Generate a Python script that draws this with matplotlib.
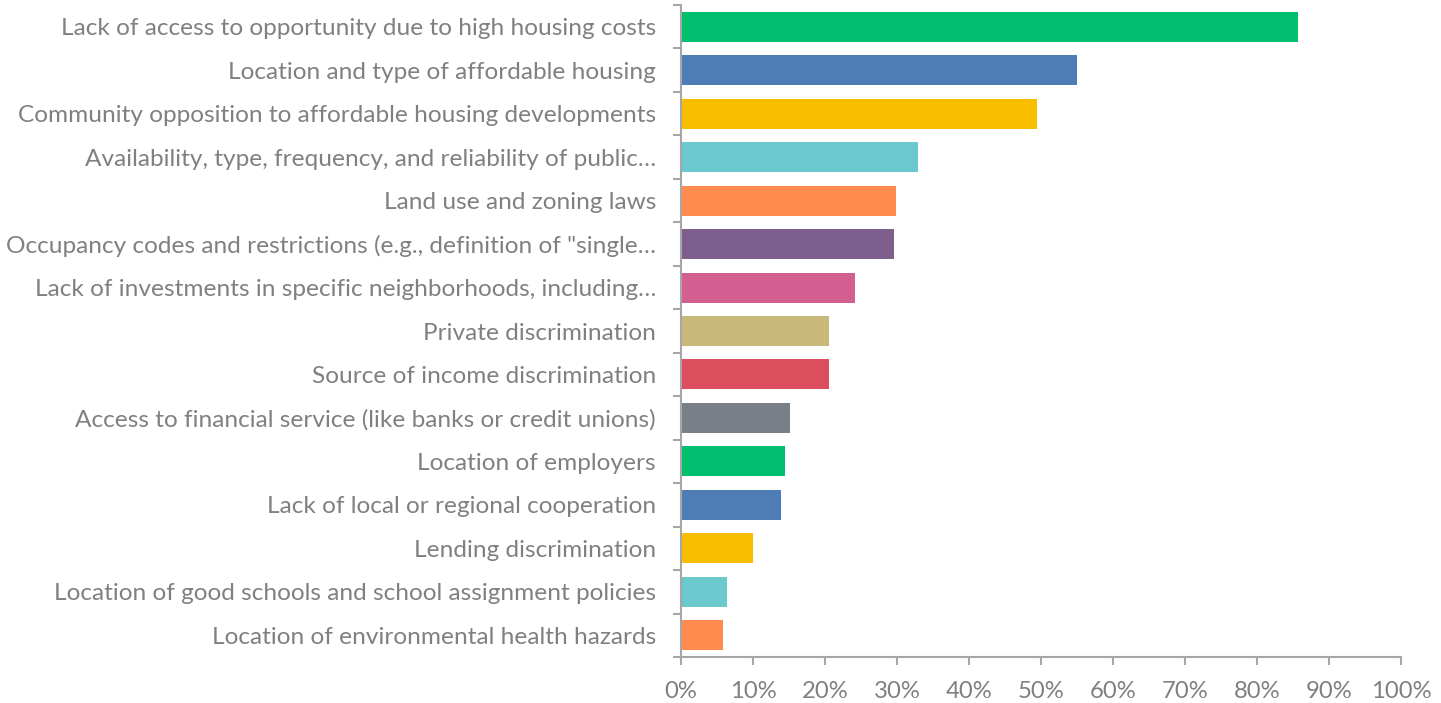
import numpy as np
import matplotlib.pyplot as plt
from matplotlib.ticker import PercentFormatter

categories = [
    "Lack of access to opportunity due to high housing costs",
    "Location and type of affordable housing",
    "Community opposition to affordable housing developments",
    "Availability, type, frequency, and reliability of public\u2026",
    "Land use and zoning laws",
    "Occupancy codes and restrictions (e.g., definition of \"single\u2026",
    "Lack of investments in specific neighborhoods, including\u2026",
    "Private discrimination",
    "Source of income discrimination",
    "Access to financial service (like banks or credit unions)",
    "Location of employers",
    "Lack of local or regional cooperation",
    "Lending discrimination",
    "Location of good schools and school assignment policies",
    "Location of environmental health hazards",
]
values = [85.7, 55.0, 49.4, 32.9, 29.9, 29.6, 24.2, 20.6, 20.6, 15.1,
          14.4, 13.9, 10.0, 6.4, 5.8]
colors = ["#00BF6F", "#4E7CB5", "#F9BE00", "#6BC8CC", "#FF8B4F",
          "#7D5E8D", "#D25F90", "#C8B87A", "#DC4E5E", "#787F87",
          "#00BF6F", "#4E7CB5", "#F9BE00", "#6BC8CC", "#FF8B4F"]

plt.rcParams['font.family'] = ['Lato', 'DejaVu Sans']

fig = plt.figure(figsize=(14.41, 7.03), dpi=100)
ax = fig.add_axes([681 / 1441, 1 - 657 / 703, 720 / 1441, 652 / 703])

y = np.arange(len(categories))
ax.barh(y, values, height=0.69, color=colors)
ax.set_ylim(len(categories) - 0.5, -0.5)
ax.set_xlim(0, 100)

axis_gray = "#A6A6A6"
text_gray = "#808080"
for side in ["top", "right"]:
    ax.spines[side].set_visible(False)
for side in ["left", "bottom"]:
    ax.spines[side].set_color(axis_gray)
    ax.spines[side].set_linewidth(1.5)

ax.set_yticks(y)
ax.set_yticklabels(categories)
ax.set_yticks(np.arange(-0.5, len(categories)), minor=True)
ax.tick_params(axis="y", which="major", length=0, pad=18, labelsize=17.6,
               labelcolor=text_gray)
ax.tick_params(axis="y", which="minor", length=6, width=1.5, color=axis_gray,
               direction="out")

ax.set_xticks(np.arange(0, 101, 10))
ax.xaxis.set_major_formatter(PercentFormatter(decimals=0))
ax.tick_params(axis="x", length=6, width=1.5, color=axis_gray, pad=11,
               labelsize=17.2, labelcolor=text_gray)

fig.savefig("out.png", dpi=100)
